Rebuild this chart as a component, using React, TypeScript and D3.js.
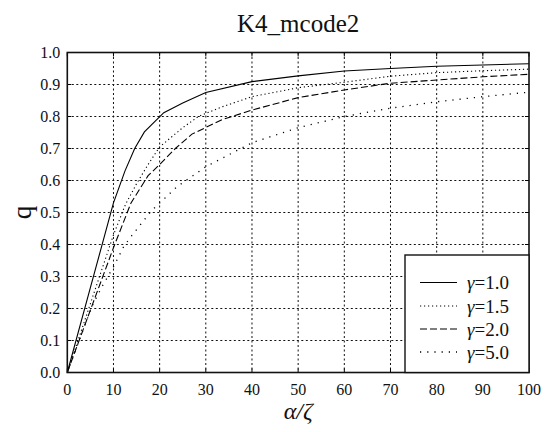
import React, { useEffect, useRef } from 'react';
import * as d3 from 'd3';

// alpha/zeta sample points and q values
const x10 = [0, 5, 10, 12.5, 14.6, 16.7, 20.9, 25, 30, 40, 50, 60, 70, 80, 90, 100];
const q10 = [0, 0.265, 0.53, 0.63, 0.70, 0.752, 0.812, 0.842, 0.875, 0.909, 0.927, 0.942, 0.950, 0.957, 0.961, 0.965];

const x15 = [0, 5, 10, 12.6, 15, 17.5, 20, 25, 28.4, 33.5, 40, 50, 60, 70, 80, 90, 100];
const q15 = [0, 0.215, 0.43, 0.525, 0.59, 0.65, 0.705, 0.765, 0.80, 0.83, 0.862, 0.89, 0.907, 0.926, 0.937, 0.943, 0.948];

const x20 = [0, 5, 10, 13.8, 17.5, 20, 23.4, 27, 33.5, 40, 50, 60, 70, 80, 90, 100];
const q20 = [0, 0.195, 0.39, 0.53, 0.615, 0.65, 0.70, 0.745, 0.79, 0.82, 0.859, 0.883, 0.904, 0.914, 0.924, 0.932];

const x50 = [0, 5.3, 7.5, 10, 12.2, 13.6, 18.2, 23.7, 30, 40, 50, 60, 70, 80, 90, 100];
const q50 = [0, 0.206, 0.268, 0.33, 0.393, 0.421, 0.505, 0.58, 0.643, 0.718, 0.765, 0.80, 0.826, 0.846, 0.862, 0.876];

const gammaLabels = ['1.0', '1.5', '2.0', '5.0'];
const xTicks = [0, 10, 20, 30, 40, 50, 60, 70, 80, 90, 100];
const yTicks = [0, 0.1, 0.2, 0.3, 0.4, 0.5, 0.6, 0.7, 0.8, 0.9, 1.0];

const App: React.FC = () => {
  const svgRef = useRef<SVGSVGElement>(null);

  useEffect(() => {
    if (!svgRef.current) return;
    const svg = d3.select(svgRef.current);
    svg.selectAll('*').remove();

    const width = 547;
    const height = 432;
    const left = 67.3, right = 529, top = 52.5, bottom = 372.5;
    const font = 'Liberation Serif, Times New Roman, Times, DejaVu Serif, serif';

    svg.attr('width', width).attr('height', height);

    const x = d3.scaleLinear().domain([0, 100]).range([left, right]);
    const y = d3.scaleLinear().domain([0, 1]).range([bottom, top]);

    svg.append('rect').attr('width', width).attr('height', height).attr('fill', '#fff');

    // grid
    const grid = svg.append('g').attr('stroke', '#111').attr('stroke-width', 1).attr('stroke-dasharray', '2,2.5');
    grid.selectAll('.gx').data(xTicks.slice(1, -1)).enter().append('line')
      .attr('x1', d => x(d)).attr('x2', d => x(d)).attr('y1', top).attr('y2', bottom);
    grid.selectAll('.gy').data(yTicks.slice(1, -1)).enter().append('line')
      .attr('y1', d => y(d)).attr('y2', d => y(d)).attr('x1', left).attr('x2', right);

    // curves
    const series = [
      { xs: x10, qs: q10, dash: null, w: 1.1 },
      { xs: x15, qs: q15, dash: '1.2,2.8', w: 1.1 },
      { xs: x20, qs: q20, dash: '7,3', w: 1.1 },
      { xs: x50, qs: q50, dash: '1.2,6', w: 1.3 },
    ];
    const line = d3.line<[number, number]>().x(d => x(d[0])).y(d => y(d[1]));
    series.forEach(s => {
      const pts = s.xs.map((v, i) => [v, s.qs[i]] as [number, number]);
      const p = svg.append('path')
        .attr('d', line(pts) || '')
        .attr('fill', 'none')
        .attr('stroke', '#000')
        .attr('stroke-width', s.w);
      if (s.dash) p.attr('stroke-dasharray', s.dash);
    });

    // ticks (inward) on all sides
    const ticks = svg.append('g').attr('stroke', '#000').attr('stroke-width', 1);
    xTicks.forEach(t => {
      ticks.append('line').attr('x1', x(t)).attr('x2', x(t)).attr('y1', bottom).attr('y2', bottom - 4);
      ticks.append('line').attr('x1', x(t)).attr('x2', x(t)).attr('y1', top).attr('y2', top + 4);
    });
    yTicks.forEach(t => {
      ticks.append('line').attr('y1', y(t)).attr('y2', y(t)).attr('x1', left).attr('x2', left + 4);
      ticks.append('line').attr('y1', y(t)).attr('y2', y(t)).attr('x1', right).attr('x2', right - 4);
    });

    // frame
    svg.append('rect')
      .attr('x', left).attr('y', top)
      .attr('width', right - left).attr('height', bottom - top)
      .attr('fill', 'none').attr('stroke', '#111').attr('stroke-width', 1.6);

    // tick labels
    svg.selectAll('.xl').data(xTicks).enter().append('text')
      .attr('x', d => x(d)).attr('y', 395)
      .attr('text-anchor', 'middle')
      .style('font-family', font).style('font-size', '16px').attr('fill', '#111')
      .text(d => String(d));
    svg.selectAll('.yl').data(yTicks).enter().append('text')
      .attr('x', left - 7).attr('y', d => y(d) + 5.5)
      .attr('text-anchor', 'end')
      .style('font-family', font).style('font-size', '16px').attr('fill', '#111')
      .text(d => d.toFixed(1));

    // title
    svg.append('text')
      .attr('x', (left + right) / 2).attr('y', 32)
      .attr('text-anchor', 'middle')
      .style('font-family', font).style('font-size', '25px').attr('fill', '#111')
      .text('K4_mcode2');

    // axis labels
    svg.append('text')
      .attr('x', (left + right) / 2).attr('y', 419)
      .attr('text-anchor', 'middle')
      .style('font-family', font).style('font-size', '24px').style('font-style', 'italic').attr('fill', '#111')
      .text('α/ζ');
    svg.append('text')
      .attr('transform', `translate(31,${(top + bottom) / 2}) rotate(-90)`)
      .attr('text-anchor', 'middle')
      .style('font-family', font).style('font-size', '27px').attr('fill', '#111')
      .text('q');

    // legend
    const lg = svg.append('g');
    lg.append('rect')
      .attr('x', 405).attr('y', 255).attr('width', right - 405).attr('height', bottom - 255)
      .attr('fill', '#fff').attr('stroke', '#111').attr('stroke-width', 1.4);
    const rowY = [282.5, 306, 329, 352];
    gammaLabels.forEach((g, i) => {
      const s = series[i];
      const l = lg.append('line')
        .attr('x1', 420).attr('x2', 457).attr('y1', rowY[i]).attr('y2', rowY[i])
        .attr('stroke', '#000').attr('stroke-width', s.w);
      if (s.dash) l.attr('stroke-dasharray', s.dash);
      const t = lg.append('text')
        .attr('x', 467).attr('y', rowY[i] + 6.5)
        .style('font-family', font).style('font-size', '19px').attr('fill', '#111');
      t.append('tspan').style('font-style', 'italic').text('γ');
      t.append('tspan').text('=' + g);
    });
  }, []);

  return (
    <svg ref={svgRef} style={{ position: 'absolute', left: 0, top: 0, display: 'block' }}></svg>
  );
};

export default App;
